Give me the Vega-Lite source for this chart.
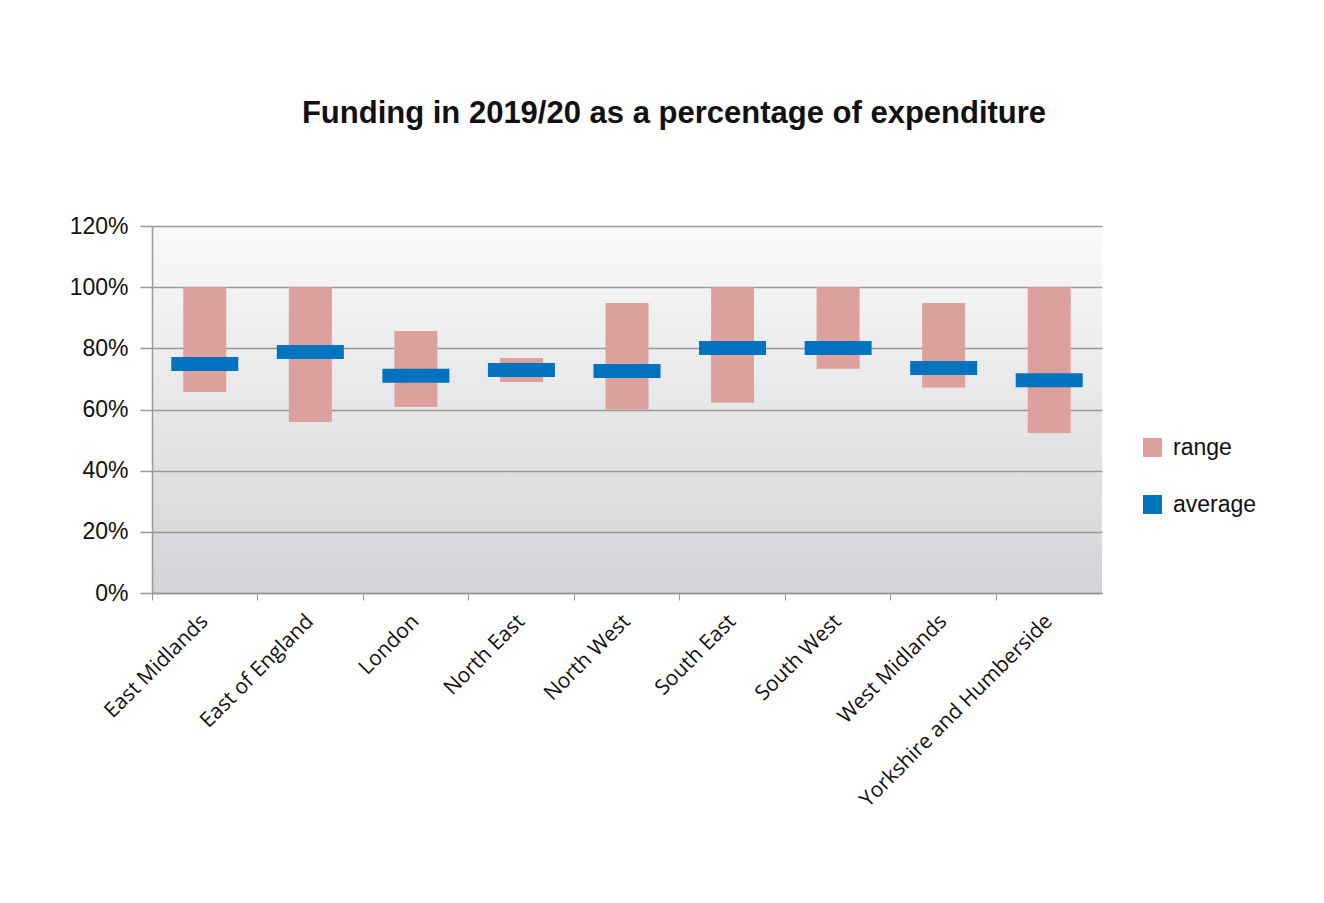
{
  "$schema": "https://vega.github.io/schema/vega-lite/v6.json",
  "width": 950,
  "height": 367,
  "autosize": {"type": "none"},
  "padding": {"left": 152, "top": 226, "right": 222, "bottom": 310},
  "background": "white",
  "title": {
    "text": "Funding in 2019/20 as a percentage of expenditure",
    "font": "Liberation Sans",
    "fontSize": 31,
    "fontWeight": "bold",
    "color": "#111111",
    "anchor": "middle",
    "frame": "group",
    "dx": 47,
    "offset": 85
  },
  "data": {
    "values": [
      {"region": "East Midlands", "low": 0.657, "high": 1.0, "avg": 0.749},
      {"region": "East of England", "low": 0.559, "high": 1.0, "avg": 0.788},
      {"region": "London", "low": 0.608, "high": 0.857, "avg": 0.71},
      {"region": "North East", "low": 0.69, "high": 0.768, "avg": 0.729},
      {"region": "North West", "low": 0.6, "high": 0.948, "avg": 0.726},
      {"region": "South East", "low": 0.622, "high": 1.0, "avg": 0.801},
      {"region": "South West", "low": 0.733, "high": 1.0, "avg": 0.801},
      {"region": "West Midlands", "low": 0.672, "high": 0.948, "avg": 0.736},
      {"region": "Yorkshire and Humberside", "low": 0.523, "high": 1.0, "avg": 0.696}
    ]
  },
  "encoding": {
    "x": {
      "field": "region",
      "type": "nominal",
      "sort": null,
      "title": null,
      "scale": {"paddingInner": 0, "paddingOuter": 0},
      "axis": {
        "bandPosition": 0,
        "labelAngle": -45,
        "labelAlign": "right",
        "labelBaseline": "middle",
        "labelFont": "Open Sans",
        "labelFontSize": 21,
        "labelColor": "#111111",
        "labelPadding": 18,
        "labelOffset": 0,
        "labelLimit": 0,
        "labelOverlap": false,
        "tickSize": 7,
        "tickColor": "#999999",
        "tickWidth": 1,
        "domainColor": "#999999",
        "domainWidth": 1.5,
        "grid": false
      }
    }
  },
  "layer": [
    {
      "mark": {"type": "bar", "width": 43},
      "encoding": {
        "y": {
          "field": "low",
          "type": "quantitative",
          "title": null,
          "scale": {"domain": [0, 1.2], "nice": false},
          "axis": {
            "values": [0, 0.2, 0.4, 0.6, 0.8, 1.0, 1.2],
            "format": ".0%",
            "labelFont": "Liberation Sans",
            "labelFontSize": 23,
            "labelColor": "#111111",
            "labelPadding": 12,
            "tickSize": 12,
            "tickColor": "#999999",
            "tickWidth": 1.5,
            "domainColor": "#999999",
            "domainWidth": 1.5,
            "grid": true,
            "gridColor": "#999999",
            "gridWidth": 1.5
          }
        },
        "y2": {"field": "high"},
        "color": {
          "datum": "range",
          "type": "nominal",
          "scale": {"domain": ["range", "average"], "range": ["#DCA19D", "#0073BF"]},
          "legend": {
            "title": null,
            "orient": "none",
            "legendX": 989,
            "legendY": 210,
            "symbolType": "square",
            "symbolSize": 361,
            "symbolStrokeWidth": 0,
            "symbolOpacity": 1,
            "labelFont": "Liberation Sans",
            "labelFontSize": 23,
            "labelColor": "#111111",
            "labelOffset": 9,
            "rowPadding": 33
          }
        }
      }
    },
    {
      "mark": {"type": "tick", "size": 67, "thickness": 14, "opacity": 1},
      "encoding": {
        "y": {"field": "avg", "type": "quantitative"},
        "color": {"datum": "average", "type": "nominal"}
      }
    }
  ],
  "config": {
    "view": {
      "stroke": null,
      "fill": {
        "gradient": "linear",
        "x1": 0, "y1": 0, "x2": 0, "y2": 1,
        "stops": [
          {"offset": 0, "color": "#f9f9f9"},
          {"offset": 1, "color": "#d3d4d7"}
        ]
      }
    }
  }
}
